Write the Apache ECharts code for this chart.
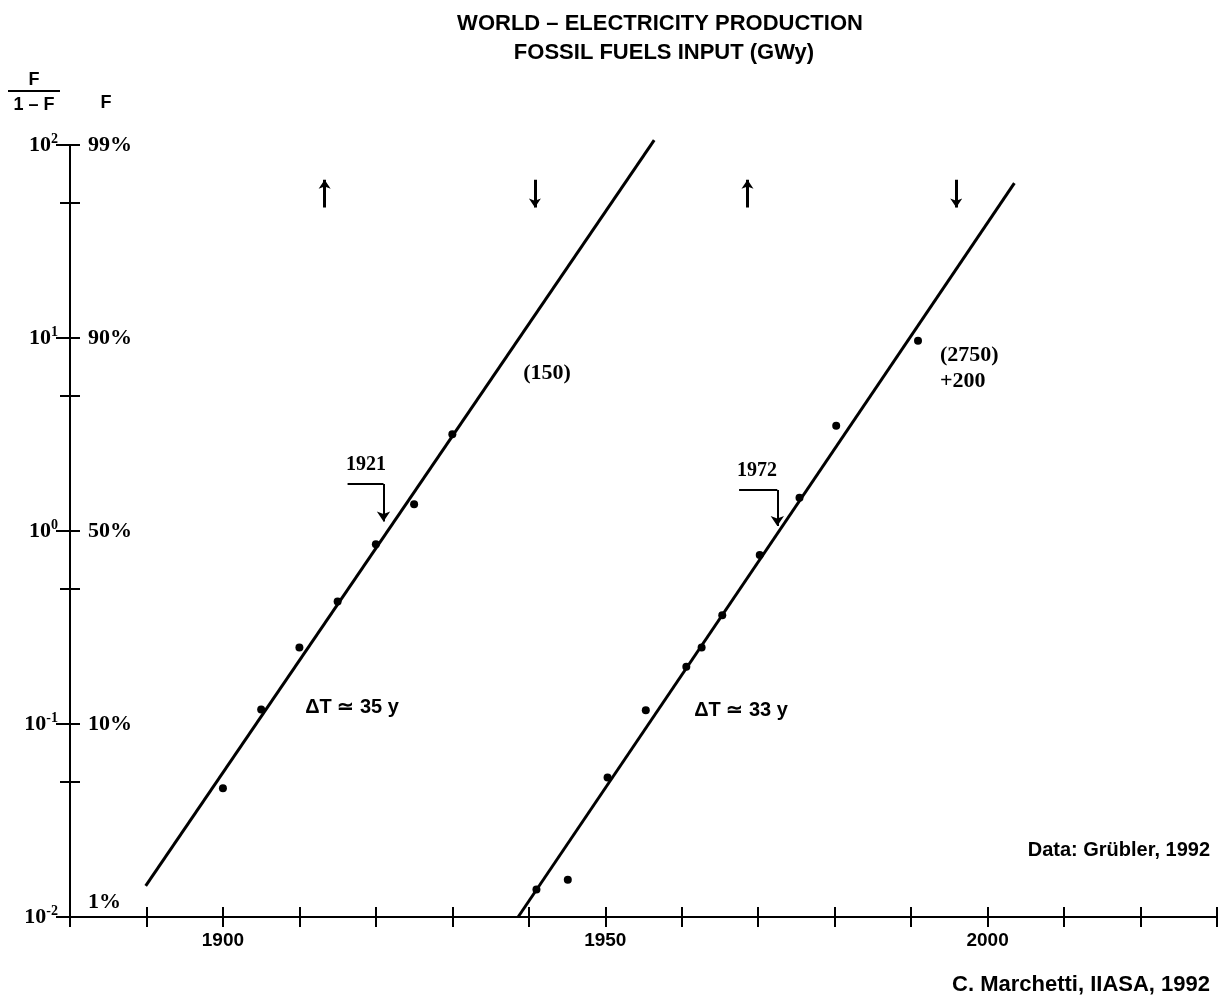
<!DOCTYPE html>
<html><head><meta charset="utf-8">
<script src="https://cdn.jsdelivr.net/npm/echarts@6/dist/echarts.min.js"></script>
<style>html,body{margin:0;padding:0;background:#fff}#c{width:1220px;height:1005px}</style>
</head><body><div id="c"></div>
<script>
// ---- data ----
const earlyYears = [1900, 1905, 1910, 1915, 1920, 1925, 1930];
const earlyRatio = [0.0465, 0.119, 0.249, 0.431, 0.853, 1.375, 3.17];
const lateYears = [1941, 1945.1, 1950.3, 1955.3, 1960.6, 1962.6, 1965.3, 1970.2, 1975.4, 1980.2, 1990.9];
const lateRatio = [0.0139, 0.0156, 0.0528, 0.118, 0.198, 0.249, 0.366, 0.750, 1.486, 3.51, 9.68];
const earlyFitYears = [1889.9, 1956.4];
const earlyFitRatio = [0.0145, 106];
const lateFitYears = [1938.6, 2003.5];
const lateFitRatio = [0.01, 63.5];
const yTickRatios = [0.01, 0.1, 1, 10, 100];
const yTickShares = ['1%', '10%', '50%', '90%', '99%'];
const yMinorRatios = [0.05, 0.1, 0.5, 1, 5, 10, 50, 100];
const xLabelYears = [1900, 1950, 2000];
const upArrowYears = [1913.3, 1968.6];
const downArrowYears = [1940.8, 1995.9];
const arrowRatioSpan = [47.5, 66];
const bracketStartYears = [1916.3, 1967.5];
const bracketYears = [1921, 1972.5];
const bracketTopRatio = [1.75, 1.63];
const bracketTipRatio = [1.12, 1.06];

const SERIF = '"Liberation Serif", "DejaVu Serif", serif';
const SANS = '"Liberation Sans", Arial, sans-serif';

const chart = echarts.init(document.getElementById('c'));

function pairs(xs, ys) { return xs.map((x, i) => [x, ys[i]]); }

const gridBox = { left: 70, right: 2, top: 145, bottom: 88 };

function txt(x, y, text, font, align) {
  return { type: 'text', x: x, y: y, silent: true,
    style: { text: text, font: font, fill: '#000', align: align || 'center', verticalAlign: 'middle' } };
}

const option = {
  animation: false,
  backgroundColor: '#fff',
  grid: gridBox,
  xAxis: [
    { type: 'value', min: 1880, max: 2030, interval: 10,
      axisLine: { show: true, onZero: false, lineStyle: { color: '#000', width: 2 } },
      axisTick: { show: false }, splitLine: { show: false },
      axisLabel: { show: true, margin: 14, color: '#000',
        fontFamily: SANS, fontWeight: 'bold', fontSize: 19,
        formatter: v => xLabelYears.indexOf(v) >= 0 ? String(v) : '' } },
    { type: 'value', min: 1880, max: 2030, interval: 10, position: 'bottom', offset: -10,
      axisLine: { show: false, onZero: false },
      axisTick: { show: true, inside: false, length: 20, lineStyle: { color: '#000', width: 2 } },
      axisLabel: { show: false }, splitLine: { show: false } }
  ],
  yAxis: [
    { type: 'log', logBase: 10, min: 0.01, max: 100, position: 'left',
      axisLine: { show: true, onZero: false, lineStyle: { color: '#000', width: 2 } },
      axisTick: { show: true, length: 14, lineStyle: { color: '#000', width: 2 } },
      splitLine: { show: false },
      axisLabel: { show: true, margin: 12, showMinLabel: true, showMaxLabel: true,
        formatter: v => { const e = Math.round(Math.log10(v)); return '{b|10}{s|' + (e < 0 ? '-' + (-e) : e) + '}'; },
        rich: {
          b: { fontFamily: SERIF, fontWeight: 'bold', fontSize: 22, color: '#000', lineHeight: 26 },
          s: { fontFamily: SERIF, fontWeight: 'bold', fontSize: 14, color: '#000', verticalAlign: 'top', lineHeight: 14 }
        } } },
    { type: 'log', logBase: 10, min: 0.01, max: 100, position: 'left',
      axisLine: { show: false, onZero: false }, axisTick: { show: false }, splitLine: { show: false },
      axisLabel: { show: true, inside: true, margin: 18, showMinLabel: true, showMaxLabel: true,
        formatter: v => {
          let best = 0;
          yTickRatios.forEach((r, i) => { if (Math.abs(Math.log10(r) - Math.log10(v)) < 0.01) best = i; });
          return best === 0 ? '{lo|' + yTickShares[best] + '}' : '{p|' + yTickShares[best] + '}';
        },
        rich: {
          p: { fontFamily: SERIF, fontWeight: 'bold', fontSize: 22, color: '#000' },
          lo: { fontFamily: SERIF, fontWeight: 'bold', fontSize: 22, color: '#000', padding: [0, 0, 30, 0] }
        } } },
    { type: 'value', min: -2, max: 2, position: 'left', offset: -10,
      axisLine: { show: false, onZero: false }, splitLine: { show: false }, axisLabel: { show: false },
      axisTick: { show: true, length: 20, lineStyle: { color: '#000', width: 2 },
        customValues: yMinorRatios.map(r => Math.log10(r)) } }
  ],
  series: [
    { type: 'line', name: 'fit1', data: pairs(earlyFitYears, earlyFitRatio), showSymbol: false, clip: false,
      lineStyle: { color: '#000', width: 3 }, silent: true, z: 2 },
    { type: 'line', name: 'fit2', data: pairs(lateFitYears, lateFitRatio), showSymbol: false, clip: false,
      lineStyle: { color: '#000', width: 3 }, silent: true, z: 2 },
    { type: 'scatter', name: 'early', data: pairs(earlyYears, earlyRatio), symbolSize: 8,
      itemStyle: { color: '#000', opacity: 1 }, z: 3 },
    { type: 'scatter', name: 'late', data: pairs(lateYears, lateRatio), symbolSize: 8,
      itemStyle: { color: '#000', opacity: 1 }, z: 3 },
    { type: 'lines', coordinateSystem: 'cartesian2d', symbol: ['none', 'arrow'], symbolSize: 9,
      lineStyle: { color: '#000', width: 3, opacity: 1 }, silent: true,
      data: upArrowYears.map(y => ({ coords: [[y, arrowRatioSpan[0]], [y, arrowRatioSpan[1]]] }))
        .concat(downArrowYears.map(y => ({ coords: [[y, arrowRatioSpan[1]], [y, arrowRatioSpan[0]]] }))) },
    { type: 'lines', coordinateSystem: 'cartesian2d', symbol: ['none', 'none'],
      lineStyle: { color: '#000', width: 2, opacity: 1 }, silent: true,
      data: bracketYears.map((y, i) => ({ coords: [[bracketStartYears[i], bracketTopRatio[i]], [y, bracketTopRatio[i]]] })) },
    { type: 'lines', coordinateSystem: 'cartesian2d', symbol: ['none', 'arrow'], symbolSize: 10,
      lineStyle: { color: '#000', width: 2, opacity: 1 }, silent: true,
      data: bracketYears.map((y, i) => ({ coords: [[y, bracketTopRatio[i]], [y, bracketTipRatio[i]]] })) }
  ],
  graphic: [
    txt(660, 24, 'WORLD – ELECTRICITY PRODUCTION', 'bold 22px ' + SANS),
    txt(664, 53, 'FOSSIL FUELS INPUT (GWy)', 'bold 22px ' + SANS),
    txt(34, 80, 'F', 'bold 18px ' + SANS),
    { type: 'line', silent: true, shape: { x1: 8, y1: 91, x2: 60, y2: 91 }, style: { stroke: '#000', lineWidth: 2 } },
    txt(34, 105, '1 – F', 'bold 18px ' + SANS),
    txt(106, 103, 'F', 'bold 18px ' + SANS),
    txt(366, 465, '1921', 'bold 20px ' + SERIF),
    txt(757, 471, '1972', 'bold 20px ' + SERIF),
    txt(352, 707, 'ΔT ≃ 35 y', 'bold 20px ' + SANS),
    txt(741, 710, 'ΔT ≃ 33 y', 'bold 20px ' + SANS),
    txt(547, 373, '(150)', 'bold 22px ' + SERIF),
    txt(940, 355, '(2750)', 'bold 22px ' + SERIF, 'left'),
    txt(940, 381, '+200', 'bold 22px ' + SERIF, 'left'),
    txt(1210, 850, 'Data: Grübler, 1992', 'bold 20px ' + SANS, 'right'),
    txt(1210, 985, 'C. Marchetti, IIASA, 1992', 'bold 22px ' + SANS, 'right')
  ]
};
chart.setOption(option);
</script></body></html>
